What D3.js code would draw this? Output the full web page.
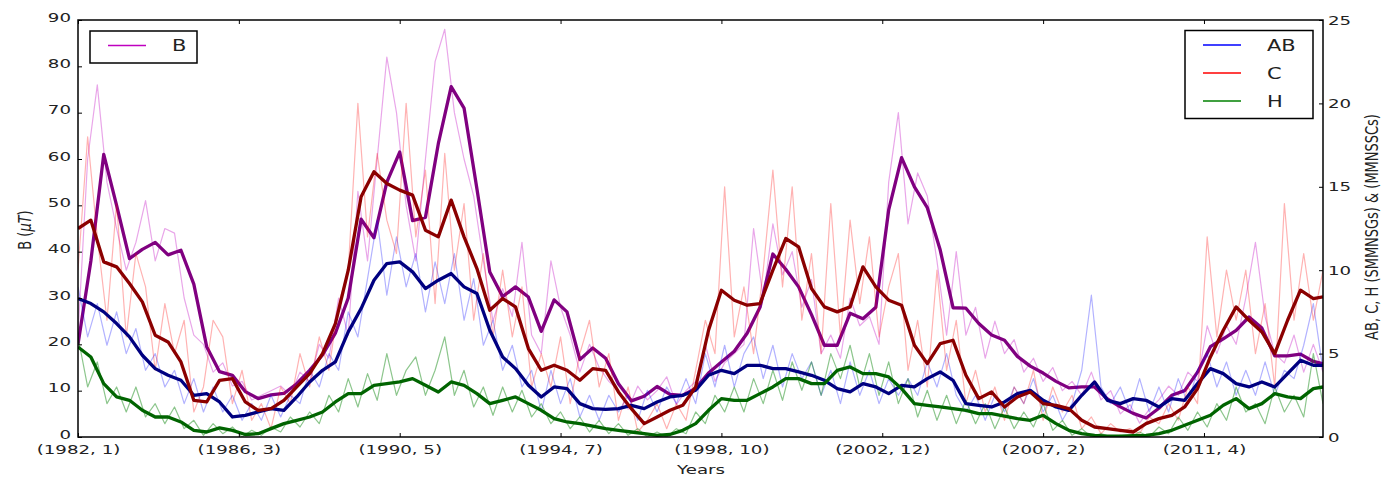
<!DOCTYPE html>
<html>
<head>
<meta charset="utf-8">
<title>B and AB, C, H</title>
<script src="https://d3js.org/d3.v7.min.js"></script>
<style>
body{margin:0;background:#fff;}
svg text{font-family:'DejaVu Sans',sans-serif;}
</style>
</head>
<body>
<svg id="chart" width="1383" height="478"></svg>
<script>
// x ticks: month index from (1982, 1)
var tickMonths = [0, 50, 100, 150, 200, 250, 300, 350];
var tickLabels = ["(1982, 1)", "(1986, 3)", "(1990, 5)", "(1994, 7)", "(1998, 10)", "(2002, 12)", "(2007, 2)", "(2011, 4)"];
var leftTicks = [0, 10, 20, 30, 40, 50, 60, 70, 80, 90];
var rightTicks = [0, 5, 10, 15, 20, 25];

// raw monthly series, read every 3 months
var rawMonths = d3.range(0, 388, 3);
var rawB = [
  22, 60, 76, 55, 45, 36, 42, 51, 38, 45,
  44, 30, 22, 20, 14, 16, 11, 12, 8, 9,
  10, 11, 9, 14, 12, 20, 17, 30, 22, 53,
  38, 60, 82, 70, 50, 38, 60, 81, 88, 70,
  60, 52, 38, 25, 32, 26, 42, 22, 18, 38,
  28, 22, 14, 20, 15, 12, 10, 6, 11, 8,
  10, 13, 7, 10, 12, 20, 12, 16, 18, 20,
  45, 30, 46, 35, 40, 28, 34, 18, 22, 17,
  30, 24, 26, 20, 55, 70, 46, 57, 52, 38,
  22, 40, 22, 28, 17, 25, 18, 21, 14, 17,
  12, 15, 10, 12, 9, 14, 8, 10, 5, 7,
  3, 6, 8, 11, 9, 14, 12, 24, 18, 24,
  20, 30, 42, 26, 18, 16, 22, 14, 20, 14];
var rawAB = [
  9, 6, 8, 5.5, 7.5, 5, 6.5, 4, 5, 3,
  4, 2, 3.5, 1.5, 3, 1.5, 2.5, 1, 2, 1,
  2.5, 1.2, 2.5, 2, 4, 3, 5, 4, 7.5, 6,
  9.5, 13, 8.5, 12, 9, 11, 7.5, 10.5, 8, 11,
  7, 9.5, 5.5, 7, 4, 5.5, 3, 4, 1.5, 4,
  2, 3.5, 1.2, 2.5, 1, 2.5, 1.5, 2.5, 1, 2.8,
  1.5, 3, 2, 3.5, 2, 5, 3, 5.5, 3, 5,
  6, 3.5, 5.5, 3, 5, 3.5, 4.5, 2.5, 4, 2,
  4.5, 2.5, 4, 2, 3.5, 2.5, 3.5, 2.5, 4.5, 3,
  5, 2.5, 1.5, 2.5, 1, 2.5, 1.5, 3, 2, 3.5,
  1.5, 2.5, 1, 2, 4, 8.5, 3, 2, 3, 1.5,
  3.5, 1.5, 3, 1.5, 3.5, 2, 4, 5, 3, 4.5,
  2.5, 4, 2.5, 4.5, 2.5, 4, 3.5, 5.5, 8, 4];
var rawC = [
  10, 18, 12, 7, 14, 6, 11, 9, 4, 8,
  5, 7, 1.5, 3, 7, 6, 2, 4, 1, 2,
  0.5, 3, 2, 5, 3, 6, 4, 8, 10, 20,
  12, 17, 13, 11, 20, 12, 16, 8, 17, 10,
  14, 7, 11, 6, 10, 6, 9, 3, 5, 3,
  6, 2, 5, 7, 3, 5, 1, 3, 0.3, 1,
  2, 0.5, 2, 1, 4, 7, 5, 15, 6, 9,
  5, 10, 16, 9, 15, 7, 11, 5, 14, 6,
  13, 8, 12, 6, 9, 11, 4, 7, 3, 10,
  4, 7, 2, 4, 1.5, 3, 1, 3, 2, 4,
  1, 3, 1.5, 2.5, 0.5, 1.2, 0.2, 0.8, 0.3, 0.5,
  0.2, 1.2, 0.8, 2, 1, 3, 2, 12, 6, 10,
  7, 10, 5, 8, 3, 14, 7, 11, 7, 10];
var rawH = [
  6, 3, 4.5, 2, 3, 1.5, 3, 1.2, 2, 0.8,
  1.8, 0.5, 1, 0.1, 0.8, 0.2, 0.6, 0, 0.4, 0.1,
  0.6, 0.3, 1.2, 0.6, 1.5, 0.8, 2.5, 1.5, 3.5, 1.8,
  3.8, 2.2, 5, 2.5, 4, 4.8, 2.5, 4, 6, 2.5,
  4, 1.8, 3, 1.3, 3, 1.5, 2.8, 1.2, 2, 0.8,
  1.5, 0.5, 1.2, 0.3, 1, 0.2, 0.8, 0.1, 0.5, 0,
  0.3, 0, 0.5, 0.2, 1.5, 0.8, 2.5, 1.5, 3, 1.5,
  3.5, 2, 4, 2.2, 4.5, 2.8, 4.5, 2.5, 5, 3.5,
  5.5, 3, 5, 2.5, 4.5, 2, 3.5, 1.2, 2.8, 1,
  2.5, 0.8, 2.2, 0.8, 2, 0.5, 1.8, 0.5, 1.5, 0.6,
  2, 0.4, 1, 0.1, 0.5, 0, 0.2, 0, 0.1, 0,
  0.3, 0, 0.6, 0.2, 1.2, 0.4, 1.5, 0.6, 2, 1,
  3, 1.5, 2, 0.8, 3, 1.5, 2.5, 1.2, 5, 2];

// smoothed series, read every 4 months
var smoothMonths = d3.range(0, 385, 4).concat([387]);
var smoothB = [
  20, 38, 61, 50, 38.5, 40.5, 42, 39.3, 40.3, 33,
  19.5, 14.1, 13.3, 9.8, 8.3, 9.1, 9.4, 11.5, 14.4, 17.7,
  22.4, 30, 47, 43, 55, 61.5, 46.7, 47.4, 63.3, 75.6,
  71, 53.6, 35.6, 30.3, 32.4, 30.2, 22.8, 29.6, 27, 16.7,
  19.2, 17, 11.5, 7.8, 8.8, 10.9, 9.2, 9, 10.5, 13.8,
  16.2, 18.5, 22.4, 28, 39.5, 36.2, 32.4, 26.4, 19.8, 19.8,
  26.7, 25.5, 28, 49, 60.3, 54, 49.5, 40.4, 27.9, 27.8,
  24.5, 22, 20.9, 17.4, 15.3, 13.8, 12, 10.6, 10.8, 10.8,
  8.2, 6.5, 5.1, 4.1, 6.2, 9, 10, 14, 19.5, 21.2,
  23, 25.9, 23.5, 17.5, 17.5, 17.9, 16.3, 15.8];
var smoothAB = [
  8.3, 8.0, 7.5, 6.8, 6.0, 4.9, 4.1, 3.7, 3.4, 2.5,
  2.6, 2.1, 1.2, 1.3, 1.5, 1.7, 1.6, 2.4, 3.3, 4.0,
  4.5, 6.3, 7.7, 9.4, 10.4, 10.5, 9.9, 8.9, 9.4, 9.8,
  9.0, 8.6, 6.4, 4.8, 4.1, 3.1, 2.4, 3.0, 2.9, 2.0,
  1.7, 1.65, 1.7, 1.9, 1.7, 2.1, 2.4, 2.5, 2.8, 3.7,
  4.0, 3.8, 4.3, 4.3, 4.1, 4.1, 3.9, 3.7, 3.4, 2.9,
  2.7, 3.2, 3.0, 2.6, 3.1, 3.0, 3.5, 3.9, 3.4, 2.0,
  1.9, 1.8, 2.1, 2.6, 2.8, 2.2, 1.8, 1.6, 2.5, 3.3,
  2.2, 2.0, 2.3, 2.2, 1.8, 2.3, 2.2, 3.2, 4.1, 3.8,
  3.2, 3.0, 3.3, 3.0, 3.8, 4.6, 4.3, 4.3];
var smoothC = [
  12.5, 13, 10.5, 10.2, 9.2, 8.1, 6.1, 5.7, 4.5, 2.2,
  2.1, 3.4, 3.5, 2.1, 1.6, 1.7, 2.2, 3.0, 3.8, 5.0,
  6.8, 10, 14.4, 15.9, 15.2, 14.8, 14.5, 12.4, 12.0, 14.2,
  12.0, 10.1, 7.6, 8.3, 7.8, 5.3, 4.0, 4.3, 4.0, 3.4,
  4.1, 4.0, 2.7, 1.7, 0.8, 1.2, 1.6, 1.9, 3.0, 6.4,
  8.8, 8.2, 7.9, 8.0, 10.0, 11.9, 11.4, 8.9, 7.8, 7.5,
  7.8, 10.2, 9.0, 8.2, 7.9, 5.5, 4.4, 5.6, 5.8, 3.7,
  2.3, 2.7, 1.8, 2.4, 2.7, 2.0, 1.9, 1.7, 1.0, 0.6,
  0.5, 0.4, 0.3, 0.8, 1.1, 1.3, 1.8, 2.9, 4.8, 6.4,
  7.8, 7.0, 6.3, 5.0, 7.0, 8.8, 8.3, 8.4];
var smoothH = [
  5.4, 4.8, 3.2, 2.4, 2.2, 1.6, 1.2, 1.2, 0.9, 0.4,
  0.3, 0.55, 0.4, 0.15, 0.2, 0.5, 0.8, 1.0, 1.2, 1.5,
  2.1, 2.6, 2.6, 3.1, 3.2, 3.3, 3.5, 3.1, 2.7, 3.3,
  3.1, 2.6, 2.0, 2.2, 2.4, 2.0, 1.6, 1.1, 0.9, 0.8,
  0.65, 0.5, 0.4, 0.3, 0.2, 0.1, 0.15, 0.4, 0.8, 1.6,
  2.3, 2.2, 2.2, 2.6, 3.0, 3.5, 3.5, 3.2, 3.2, 4.0,
  4.2, 3.8, 3.8, 3.6, 2.9, 2.0, 1.9, 1.8, 1.7, 1.6,
  1.4, 1.4, 1.25, 1.1, 1.0, 1.3, 0.8, 0.4, 0.2, 0.1,
  0.05, 0.05, 0.08, 0.1, 0.2, 0.4, 0.7, 1.0, 1.3, 1.9,
  2.3, 1.7, 2.0, 2.6, 2.4, 2.3, 2.9, 3.0];

var svg = d3.select("#chart");
var L = 78, R = 1323, T = 20, B = 437;
var SX = 1.4; // the picture's text is stretched sideways

var x = d3.scaleLinear().domain([0, 387]).range([L, R]);
var yB = d3.scaleLinear().domain([0, 90]).range([B, T]);
var yR = d3.scaleLinear().domain([0, 25]).range([B, T]);

svg.append("clipPath").attr("id", "clip")
  .append("rect").attr("x", L).attr("y", T).attr("width", R - L).attr("height", B - T);
var plot = svg.append("g").attr("clip-path", "url(#clip)");

function drawLine(months, vals, y, color, w, op) {
  var line = d3.line()
    .x(function(d, i) { return x(months[i]); })
    .y(function(d) { return y(d); });
  plot.append("path").datum(vals)
    .attr("d", line)
    .attr("fill", "none")
    .attr("stroke", color)
    .attr("stroke-width", w)
    .attr("stroke-opacity", op)
    .attr("stroke-linejoin", "round");
}

drawLine(rawMonths, rawB, yB, "#bf00bf", 1.2, 0.35);
drawLine(smoothMonths, smoothB, yB, "#800080", 3.3, 1);
drawLine(rawMonths, rawAB, yR, "#0000ff", 1.2, 0.3);
drawLine(rawMonths, rawC, yR, "#ff0000", 1.2, 0.3);
drawLine(rawMonths, rawH, yR, "#008000", 1.2, 0.45);
drawLine(smoothMonths, smoothAB, yR, "#000080", 3.3, 1);
drawLine(smoothMonths, smoothC, yR, "#8b0000", 3.3, 1);
drawLine(smoothMonths, smoothH, yR, "#006400", 3.3, 1);

// axes
function styleAxis(g, dx) {
  g.select(".domain").remove();
  g.attr("font-family", "'DejaVu Sans', sans-serif").attr("font-size", 13).attr("color", "#222");
  g.selectAll(".tick line").attr("stroke", "#000");
  g.selectAll("text").attr("transform", "scale(" + SX + ",1)");
  if (dx !== undefined) g.selectAll("text").attr("x", dx / SX);
}

var gxb = svg.append("g").attr("transform", "translate(0," + B + ")")
  .call(d3.axisBottom(x).tickValues(tickMonths)
    .tickFormat(function(d, i) { return tickLabels[i]; })
    .tickSizeInner(-4).tickSizeOuter(0).tickPadding(8));
styleAxis(gxb);

var gxt = svg.append("g").attr("transform", "translate(0," + T + ")")
  .call(d3.axisTop(x).tickValues(tickMonths).tickFormat("")
    .tickSizeInner(-4).tickSizeOuter(0));
styleAxis(gxt);

var gyl = svg.append("g").attr("transform", "translate(" + L + ",0)")
  .call(d3.axisLeft(yB).tickValues(leftTicks).tickSizeInner(-4).tickSizeOuter(0));
styleAxis(gyl, -7);
gyl.selectAll("text").attr("dy", "0.1em");

var gyr = svg.append("g").attr("transform", "translate(" + R + ",0)")
  .call(d3.axisRight(yR).tickValues(rightTicks).tickSizeInner(-4).tickSizeOuter(0));
styleAxis(gyr, 5);

svg.append("rect").attr("x", L).attr("y", T).attr("width", R - L).attr("height", B - T)
  .attr("fill", "none").attr("stroke", "#000").attr("stroke-width", 1.5);

function label(x0, y0, anchor, size, rot) {
  return svg.append("text")
    .attr("transform", "translate(" + x0 + "," + y0 + ") scale(" + SX + ",1)" + (rot ? " rotate(" + rot + ")" : ""))
    .attr("text-anchor", anchor)
    .style("font-size", size + "px")
    .attr("fill", "#222");
}

label((L + R) / 2 + 0.5, 474, "middle", 13).text("Years");
var yl = label(31, 230, "middle", 13, -90);
yl.append("tspan").text("B (");
yl.append("tspan").style("font-style", "italic").text("\u03bcT");
yl.append("tspan").text(")");
label(1378, 227, "middle", 13, -90).text("AB, C, H (SMMNSGs) & (MMNSSCs)");

// legends
var legLeft = [{name: "B", color: "#bf00bf"}];
var legRight = [{name: "AB", color: "#0000ff"}, {name: "C", color: "#ff0000"}, {name: "H", color: "#008000"}];

function legend(items, bx, by, bw, bh) {
  svg.append("rect").attr("x", bx).attr("y", by).attr("width", bw).attr("height", bh)
    .attr("fill", "#fff").attr("stroke", "#000").attr("stroke-width", 1.5);
  items.forEach(function(it, i) {
    var yy = by + 14.5 + i * 28;
    svg.append("line").attr("x1", bx + 18).attr("x2", bx + 56).attr("y1", yy).attr("y2", yy)
      .attr("stroke", it.color).attr("stroke-width", 1.6);
    label(bx + 82, yy + 5.5, "start", 15).text(it.name);
  });
}
legend(legLeft, 90, 31, 107, 32);
legend(legRight, 1185, 30.5, 128, 88);
</script>
</body>
</html>
